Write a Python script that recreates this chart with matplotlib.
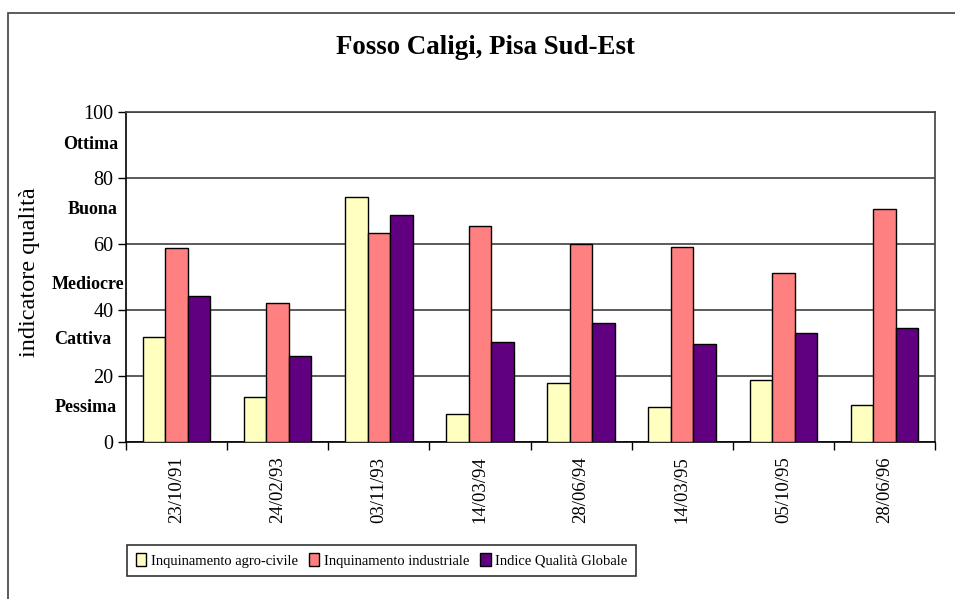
import matplotlib
matplotlib.use("Agg")
import matplotlib.pyplot as plt
from matplotlib.patches import Rectangle
import numpy as np

plt.rcParams['font.family'] = ['Liberation Serif', 'DejaVu Serif']

# dati
date = ['23/10/91', '24/02/93', '03/11/93', '14/03/94',
        '28/06/94', '14/03/95', '05/10/95', '28/06/96']
agro_civile = [31.8, 13.6, 74.2, 8.5, 17.9, 10.4, 18.8, 11.1]
industriale = [58.7, 42.0, 63.2, 65.5, 60.1, 59.1, 51.2, 70.7]
indice_globale = [44.1, 25.9, 68.7, 30.2, 35.9, 29.7, 33.0, 34.4]

classi = ['Ottima', 'Buona', 'Mediocre', 'Cattiva', 'Pessima']
classi_y = [90.0, 70.3, 47.8, 31.0, 10.5]
classi_dx = [-8, -8, -2, -15, -9]   # spostamento in pixel dall'asse

serie = [('Inquinamento agro-civile', agro_civile, '#FFFFC0'),
         ('Inquinamento industriale', industriale, '#FF8080'),
         ('Indice Qualità Globale', indice_globale, '#600080')]

W, H = 955, 599
fig = plt.figure(figsize=(W / 100, H / 100), dpi=100)
ax = fig.add_axes([126 / W, 1 - 441.7 / H, (935 - 126) / W, (441.7 - 112) / H])

# bordo esterno del grafico
fig.patches.append(Rectangle((8 / W, -0.1), 1.2, 1 - 13 / H + 0.1,
                             transform=fig.transFigure, fill=False,
                             edgecolor='#404040', lw=1.2))

x = np.arange(len(date))
bw = 1 / 4.5
for i, (nome, valori, col) in enumerate(serie):
    ax.bar(x + (i - 1) * bw, valori, width=bw, color=col,
           edgecolor='black', linewidth=1, label=nome, zorder=3)

ax.set_xlim(-0.5, len(date) - 0.5)
ax.set_ylim(0, 100)
ax.set_yticks([0, 20, 40, 60, 80, 100])
ax.tick_params(axis='y', labelsize=14.5, length=6, direction='out', width=1, pad=3)
ax.yaxis.grid(True, color='#404040', lw=1.2, zorder=0)

ax.set_xticks(np.arange(len(date) + 1) - 0.5)
ax.set_xticklabels([])
ax.tick_params(axis='x', length=6, direction='out', width=1)
for xi, d in zip(x, date):
    ax.text(xi, -4.5, d, rotation=90, ha='center', va='top', fontsize=13.5)

for s in ax.spines.values():
    s.set_linewidth(1.2)
    s.set_color('black')
ax.spines['top'].set_color('#404040')
ax.spines['right'].set_color('#404040')

for nome, yv, dx in zip(classi, classi_y, classi_dx):
    ax.annotate(nome, xy=(0, yv), xycoords=('axes fraction', 'data'),
                xytext=(dx * 0.72, 0), textcoords='offset points',
                ha='right', va='center', fontsize=13, fontweight='bold')

fig.text(30 / W, 1 - 272 / H, 'indicatore qualità', rotation=90,
         ha='center', va='center', fontsize=17.5)
fig.text(485 / W, 1 - 48 / H, 'Fosso Caligi, Pisa Sud-Est',
         ha='center', va='center', fontsize=19.4, fontweight='bold')

leg = fig.legend(loc='center', bbox_to_anchor=(127 / W, 1 - 579 / H, 509 / W, 37 / H),
                 mode='expand', ncol=3, fontsize=10.5, frameon=True,
                 fancybox=False, edgecolor='black',
                 handlelength=0.72, handleheight=0.95, handletextpad=0.3,
                 columnspacing=1.0, borderpad=0.6, borderaxespad=0)
leg.get_frame().set_linewidth(1.2)

fig.savefig('out.png', dpi=100)
